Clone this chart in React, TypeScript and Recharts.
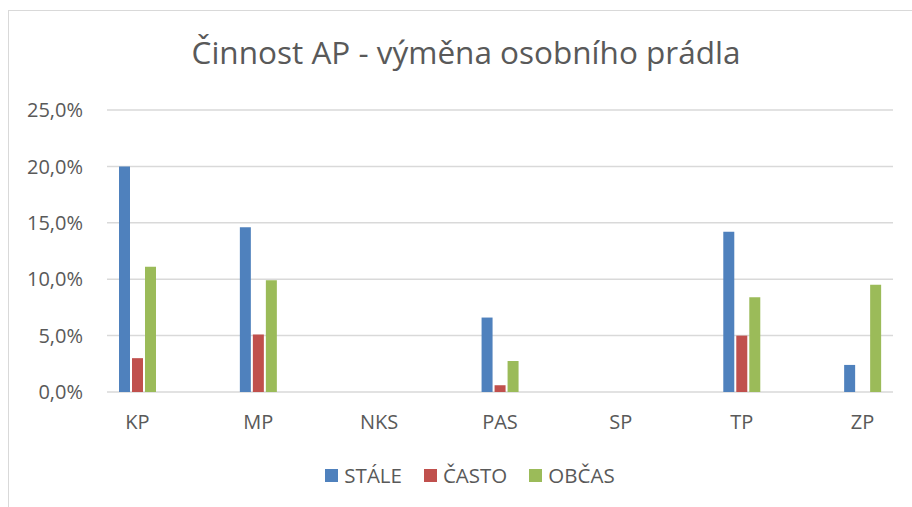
import { BarChart, Bar, XAxis, YAxis, CartesianGrid, Legend } from 'recharts';

const categories = ['KP', 'MP', 'NKS', 'PAS', 'SP', 'TP', 'ZP'];
const stale = [20.0, 14.6, 0, 6.6, 0, 14.2, 2.4];
const casto = [3.0, 5.1, 0, 0.6, 0, 5.0, 0];
const obcas = [11.1, 9.9, 0, 2.75, 0, 8.4, 9.5];
const yTicks = [0, 5, 10, 15, 20, 25];

const series = [
  { key: 'stale', name: 'STÁLE', color: '#4F81BD' },
  { key: 'casto', name: 'ČASTO', color: '#C0504D' },
  { key: 'obcas', name: 'OBČAS', color: '#9BBB59' },
];

const data = categories.map((cat, i) => ({
  cat,
  stale: stale[i],
  casto: casto[i],
  obcas: obcas[i],
}));

const font = '"Open Sans", sans-serif';
const textColor = '#595959';

function LegendContent() {
  return (
    <div style={{ display: 'flex', justifyContent: 'center', fontFamily: font, fontSize: 20.5, color: textColor }}>
      {series.map((s) => (
        <div key={s.key} style={{ display: 'flex', alignItems: 'center', margin: '0 11px' }}>
          <div style={{ width: 13, height: 13, backgroundColor: s.color, marginRight: 6 }} />
          <span>{s.name}</span>
        </div>
      ))}
    </div>
  );
}

export default function App() {
  return (
    <div style={{ position: 'fixed', left: 0, top: 0, width: 912, height: 507, overflow: 'hidden', background: '#fff' }}>
      <div
        style={{
          position: 'absolute',
          left: 8,
          top: 10,
          width: 940,
          height: 540,
          border: '1px solid #d9d9d9',
        }}
      />
      <div
        style={{
          position: 'absolute',
          left: 0,
          top: 34,
          width: 932,
          textAlign: 'center',
          fontFamily: font,
          fontSize: 31.5,
          lineHeight: '36px',
          color: textColor,
        }}
      >
        Činnost AP - výměna osobního prádla
      </div>
      <div style={{ position: 'absolute', left: 0, top: 0 }}>
        <BarChart
          width={912}
          height={507}
          data={data}
          margin={{ top: 110, right: 19, bottom: 75, left: 47 }}
          barSize={11}
          barGap={2}
          style={{ fontFamily: font }}
        >
          <CartesianGrid vertical={false} stroke="#d9d9d9" strokeWidth={1.5} />
          <XAxis
            dataKey="cat"
            height={40}
            axisLine={false}
            tickLine={false}
            tickSize={0}
            tickMargin={23}
            padding={{ left: -30, right: -30 }}
            interval={0}
            tick={{ fill: textColor, fontSize: 20 }}
          />
          <YAxis
            width={60}
            domain={[0, 25]}
            ticks={yTicks}
            axisLine={false}
            tickLine={false}
            tickSize={0}
            tickMargin={24}
            tick={{ fill: textColor, fontSize: 20 }}
            tickFormatter={(v: number) => `${v.toFixed(1).replace('.', ',')}%`}
          />
          <Legend
            layout="horizontal"
            verticalAlign="middle"
            align="center"
            content={LegendContent}
            wrapperStyle={{ top: 461, left: 14, width: 912 }}
          />
          {series.map((s) => (
            <Bar key={s.key} dataKey={s.key} name={s.name} fill={s.color} isAnimationActive={false} />
          ))}
        </BarChart>
      </div>
    </div>
  );
}
